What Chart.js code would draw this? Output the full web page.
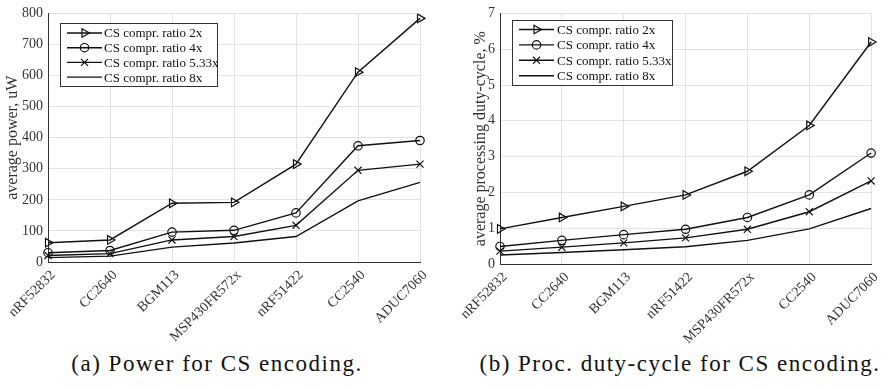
<!DOCTYPE html>
<html>
<head>
<meta charset="utf-8">
<script src="https://cdn.jsdelivr.net/npm/chart.js@4/dist/chart.umd.min.js"></script>
<style>
  body { margin: 0; background: #fff; }
  .panel { position: absolute; top: 0; width: 444px; height: 348px; }
  .cap { position: absolute; top: 351px; transform: translateX(-50%); font-family: "Liberation Serif", serif; font-size: 23px; letter-spacing: 1.5px; color: #111; white-space: nowrap; }
</style>
</head>
<body>
<div class="panel" style="left:0"><canvas id="powerChart"></canvas></div>
<div class="panel" style="left:444px"><canvas id="dutyChart"></canvas></div>
<div class="cap" style="left:217px">(a) Power for CS encoding.</div>
<div class="cap" style="left:680px">(b) Proc. duty-cycle for CS encoding.</div>
<script>
const seriesLabels = ['CS compr. ratio 2x', 'CS compr. ratio 4x', 'CS compr. ratio 5.33x', 'CS compr. ratio 8x'];

// (a) average power, uW
const powerDevices = ['nRF52832', 'CC2640', 'BGM113', 'MSP430FR572x', 'nRF51422', 'CC2540', 'ADUC7060'];
const power2x   = [62, 71, 189, 192, 315, 611, 784];
const power4x   = [30, 37, 96, 102, 158, 374, 391];
const power533x = [21, 27, 71, 82, 118, 295, 315];
const power8x   = [14, 19, 48, 61, 82, 197, 256];

// (b) average processing duty-cycle, %
const dutyDevices = ['nRF52832', 'CC2640', 'BGM113', 'nRF51422', 'MSP430FR572x', 'CC2540', 'ADUC7060'];
const duty2x   = [0.98, 1.30, 1.61, 1.93, 2.59, 3.87, 6.20];
const duty4x   = [0.49, 0.66, 0.82, 0.97, 1.30, 1.93, 3.10];
const duty533x = [0.36, 0.47, 0.59, 0.73, 0.97, 1.46, 2.32];
const duty8x   = [0.25, 0.32, 0.40, 0.48, 0.66, 0.98, 1.55];

const serif = '"Liberation Serif", serif';
const markers = [
  { pointStyle: 'triangle', rotation: 90, radius: 5 },
  { pointStyle: 'circle', rotation: 0, radius: 4.2 },
  { pointStyle: 'crossRot', rotation: 0, radius: 5 },
  { pointStyle: false, rotation: 0, radius: 0 }
];

function makeDatasets(lists) {
  return lists.map((data, i) => ({
    label: seriesLabels[i],
    data,
    borderColor: '#111',
    borderWidth: 1.4,
    tension: 0,
    pointStyle: markers[i].pointStyle,
    pointRotation: markers[i].rotation,
    pointRadius: markers[i].radius,
    pointBorderWidth: 1.2,
    pointBorderColor: '#111',
    pointBackgroundColor: 'rgba(255,255,255,0)'
  }));
}

// legend box drawn inside the plot area, MATLAB style
const boxLegend = {
  id: 'boxLegend',
  afterDraw(chart, args, o) {
    const ctx = chart.ctx;
    ctx.save();
    ctx.fillStyle = '#fff';
    ctx.fillRect(o.x, o.y, o.w, o.h);
    ctx.strokeStyle = '#333';
    ctx.lineWidth = 1;
    ctx.strokeRect(o.x + 0.5, o.y + 0.5, o.w, o.h);
    ctx.font = '13px ' + serif;
    ctx.textBaseline = 'middle';
    chart.data.datasets.forEach((ds, i) => {
      const y = o.y + o.row0 + i * o.gap;
      ctx.strokeStyle = '#111';
      ctx.lineWidth = 1.4;
      ctx.beginPath();
      ctx.moveTo(o.x + o.line0, y);
      ctx.lineTo(o.x + o.line1, y);
      ctx.stroke();
      if (ds.pointStyle) {
        ctx.lineWidth = 1.2;
        ctx.fillStyle = 'rgba(255,255,255,0)';
        Chart.helpers.drawPoint(ctx, { pointStyle: ds.pointStyle, rotation: ds.pointRotation, radius: ds.pointRadius, borderWidth: 1.2 },
          o.x + (o.line0 + o.line1) / 2, y);
      }
      ctx.fillStyle = '#111';
      ctx.fillText(ds.label, o.x + o.text, y + 1);
    });
    ctx.restore();
  }
};

function makeChart(id, labels, lists, yMax, yTitle, geo) {
  return new Chart(document.getElementById(id), {
    type: 'line',
    data: { labels, datasets: makeDatasets(lists) },
    plugins: [boxLegend],
    options: {
      responsive: true, maintainAspectRatio: false, animation: false,
      layout: { padding: { top: geo.top, right: geo.right, left: 0, bottom: 0 } },
      plugins: {
        legend: { display: false },
        tooltip: { enabled: false },
        boxLegend: geo.legend
      },
      scales: {
        x: {
          offset: false,
          grid: { color: '#e2e2e2', drawTicks: false },
          border: { display: true, color: '#333', width: 1 },
          ticks: { color: '#333', font: { family: serif, size: 14 }, minRotation: 45, maxRotation: 45, padding: 5, labelOffset: 5, autoSkip: false },
          afterFit: s => { s.height = geo.xHeight; }
        },
        y: {
          min: 0, max: yMax,
          grid: { color: '#e2e2e2', drawTicks: false },
          border: { display: true, color: '#333', width: 1 },
          ticks: { color: '#333', font: { family: serif, size: 14 }, stepSize: yMax === 800 ? 100 : 1, padding: 5 },
          title: { display: true, text: yTitle, color: '#333', font: { family: serif, size: 16 }, padding: { top: geo.titlePad, bottom: 0 } },
          afterFit: s => { s.width = geo.yWidth; }
        }
      }
    }
  });
}

makeChart('powerChart', powerDevices, [power2x, power4x, power533x, power8x], 800, 'average power, uW', {
  top: 12, right: 24, yWidth: 48, xHeight: 86, titlePad: 3,
  legend: { x: 60, y: 23, w: 157, h: 63, row0: 10, gap: 14.7, line0: 7, line1: 42, text: 44 }
});

makeChart('dutyChart', dutyDevices, [duty2x, duty4x, duty533x, duty8x], 7, 'average processing duty-cycle, %', {
  top: 8, right: 10, yWidth: 56, xHeight: 84, titlePad: 27,
  legend: { x: 68, y: 20, w: 160, h: 65, row0: 9.5, gap: 15.4, line0: 7, line1: 42, text: 45 }
});
</script>
</body>
</html>
